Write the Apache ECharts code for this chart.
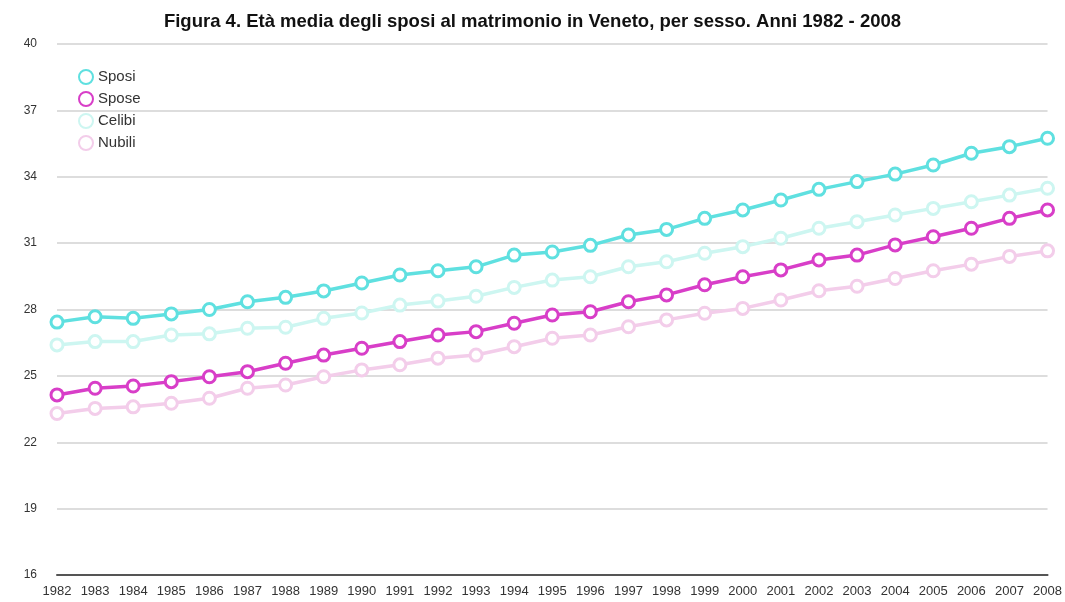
<!DOCTYPE html>
<html>
<head>
<meta charset="utf-8">
<script src="https://cdn.jsdelivr.net/npm/echarts@6/dist/echarts.min.js"></script>
<style>
html,body{margin:0;padding:0;background:#fff;}
#chart{width:1065px;height:602px;}
</style>
</head>
<body>
<div id="chart"></div>
<script>
const years = ['1982','1983','1984','1985','1986','1987','1988','1989','1990','1991','1992','1993','1994','1995','1996','1997','1998','1999','2000','2001','2002','2003','2004','2005','2006','2007','2008'];
const sposi = [27.43,27.67,27.6,27.8,28.0,28.35,28.55,28.84,29.2,29.56,29.75,29.93,30.46,30.6,30.9,31.37,31.62,32.12,32.5,32.95,33.43,33.78,34.12,34.53,35.06,35.36,35.74];
const spose = [24.14,24.44,24.54,24.74,24.96,25.19,25.57,25.94,26.25,26.55,26.85,27.0,27.38,27.75,27.9,28.35,28.66,29.12,29.48,29.79,30.24,30.46,30.92,31.29,31.67,32.12,32.5];
const celibi = [26.4,26.55,26.55,26.85,26.9,27.15,27.2,27.6,27.84,28.2,28.38,28.6,29.0,29.33,29.48,29.93,30.16,30.54,30.84,31.22,31.67,31.97,32.27,32.57,32.87,33.17,33.48];
const nubili = [23.3,23.53,23.6,23.76,23.99,24.44,24.59,24.96,25.27,25.5,25.8,25.94,26.32,26.7,26.85,27.22,27.53,27.83,28.05,28.43,28.85,29.05,29.4,29.75,30.05,30.4,30.65];
const yTicks = [16,19,22,25,28,31,34,37,40];

function mk(name, data, color, z){
  return {
    name: name, type: 'line', data: data, z: z,
    symbol: 'circle', symbolSize: 12, showSymbol: true,
    lineStyle: {color: color, width: 3.5},
    itemStyle: {color: '#ffffff', borderColor: color, borderWidth: 3},
    emphasis: {disabled: true}
  };
}

const chart = echarts.init(document.getElementById('chart'), null, {renderer: 'canvas'});
chart.setOption({
  animation: false,
  backgroundColor: '#ffffff',
  title: {
    text: 'Figura 4. Età media degli sposi al matrimonio in Veneto, per sesso. Anni 1982 - 2008',
    left: 'center', top: 7,
    textStyle: {fontFamily: 'Liberation Sans', fontWeight: 'bold', fontSize: 18.5, color: '#111'}
  },
  legend: {
    orient: 'vertical', left: 73, top: 64, itemGap: 6,
    itemWidth: 14, itemHeight: 14, icon: 'circle',
    textStyle: {fontFamily: 'Liberation Sans', fontSize: 15, color: '#333'},
    data: ['Sposi','Spose','Celibi','Nubili']
  },
  grid: {left: 57, right: 15, top: 44, bottom: 27, containLabel: false},
  xAxis: {
    type: 'category', data: years, boundaryGap: false,
    axisLine: {lineStyle: {color: '#555', width: 2}},
    axisTick: {show: false},
    axisLabel: {interval: 0, fontFamily: 'Liberation Sans', fontSize: 13, color: '#333', margin: 10},
    splitLine: {show: false}
  },
  yAxis: {
    type: 'value', min: yTicks[0], max: yTicks[yTicks.length-1], interval: 3,
    axisLine: {show: false}, axisTick: {show: false},
    axisLabel: {fontFamily: 'Liberation Sans', fontSize: 12, color: '#333', margin: 20},
    splitLine: {lineStyle: {color: '#dddddd', width: 2}}
  },
  series: [
    mk('Nubili', nubili, '#f3cdea', 2),
    mk('Celibi', celibi, '#cdf6f1', 2),
    mk('Spose', spose, '#d83ec8', 3),
    mk('Sposi', sposi, '#5fe0e0', 4)
  ]
});
</script>
</body>
</html>
